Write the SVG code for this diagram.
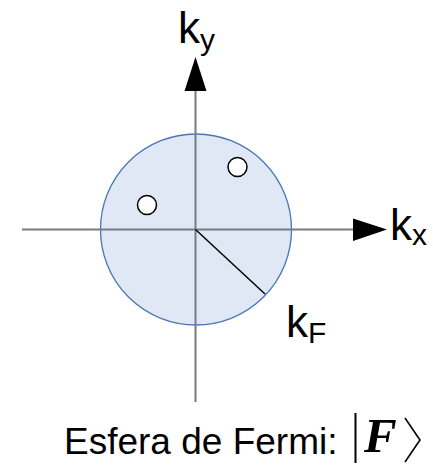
<svg xmlns="http://www.w3.org/2000/svg" width="433" height="466" viewBox="0 0 433 466">
<style>
.axis{stroke:#777b85;stroke-width:2;fill:none}
.lbl{font-family:"Liberation Sans",Arial,sans-serif;fill:#000}
.hole{fill:#fff;stroke:#000;stroke-width:1.5}
</style>
<rect width="433" height="466" fill="#fff"/>
<g id="sphere">
<circle cx="196" cy="229.5" r="95.5" fill="#dfe8f4" stroke="#4a77b4" stroke-width="1.3"/>
</g>
<g id="connectors">
<line class="axis" x1="195.5" y1="88" x2="195.5" y2="402"/>
<line class="axis" x1="22" y1="229.5" x2="356" y2="229.5"/>
<polygon points="195.5,57 184.5,91 206.5,91" fill="#000"/>
<polygon points="387,229.5 353,218.5 353,241" fill="#000"/>
<line x1="195.5" y1="229.5" x2="265" y2="294" stroke="#000" stroke-width="1.5"/>
</g>
<g id="hole1"><circle class="hole" cx="237.5" cy="167" r="9.5"/></g>
<g id="hole2"><circle class="hole" cx="147" cy="205" r="9.5"/></g>
<g id="ky"><text class="lbl" x="178" y="43" font-size="44">k<tspan font-size="30" dy="7">y</tspan></text></g>
<g id="kx"><text class="lbl" x="390" y="240" font-size="44">k<tspan font-size="30" dy="5">x</tspan></text></g>
<g id="kF"><text class="lbl" x="286" y="337" font-size="44">k<tspan font-size="30" dy="6">F</tspan></text></g>
<g id="caption">
<text class="lbl" x="64" y="454" font-size="37">Esfera de Fermi:</text>
<line x1="355.5" y1="413" x2="355.5" y2="463" stroke="#000" stroke-width="2"/>
<text x="364" y="452" font-family="'Liberation Serif','Times New Roman',serif" font-weight="bold" font-style="italic" font-size="49">F</text>
<polyline points="405,418 420,440 405,462" fill="none" stroke="#000" stroke-width="1.6"/>
</g>
</svg>
